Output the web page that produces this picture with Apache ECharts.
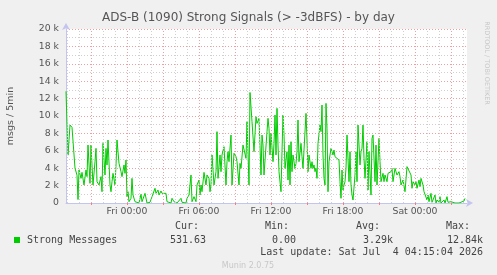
<!DOCTYPE html>
<html><head><meta charset="utf-8">
<script src="https://cdn.jsdelivr.net/npm/echarts@6/dist/echarts.min.js"></script>
<style>html,body{margin:0;padding:0;background:#f0f0f0;}#c{width:497px;height:275px;}</style>
</head><body><div id="c"></div>
<script>
// minutes relative to Fri 00:00
const minutes = [-305,-295,-285,-275,-265,-260,-250,-245,-240,-230,-225,-215,-205,-200,-195,-185,-180,-170,-160,-155,-150,-140,-130,-125,-120,-110,-105,-100,-95,-85,-80,-75,-70,-60,-55,-50,-40,-30,-25,-15,-10,-5,
0,5,10,20,25,30,40,45,50,60,70,75,80,90,100,115,125,140,145,155,160,170,175,185,195,200,210,220,225,235,245,250,260,270,275,285,295,300,310,320,325,335,345,350,360,365,370,375,385,395,400,410,415,420,425,435,445,450,455,465,470,475,485,495,500,505,510,520,525,535,545,550,560,565,570,580,590,595,600,610,615,625,635,645,650,660,670,675,680,685,690,700,705,710,715,
720,730,735,740,745,750,755,760,770,775,780,785,790,800,805,810,815,820,825,830,840,845,850,855,860,870,875,880,885,895,900,905,910,920,925,930,935,940,945,950,955,965,970,975,980,985,990,995,1000,1005,1010,1015,1020,1030,1035,1040,1045,1050,1060,1065,1070,1075,
1080,1085,1090,1095,1100,1110,1115,1120,1125,1130,1140,1145,1150,1155,1165,1170,1175,1180,1185,1190,1200,1205,1210,1220,1225,1230,1240,1245,1250,1260,1265,1270,1280,1285,1290,1300,1305,1310,1320,1325,1330,1340,1345,1350,1360,1365,1370,1380,1385,1390,1400,1405,1410,1420,1425,1430,
1440,1445,1450,1460,1465,1470,1480,1485,1490,1500,1505,1510,1520,1525,1530,1540,1545,1550,1560,1565,1570,1580,1585,1590,1600,1605,1610,1620,1625,1630,1640,1650,1660,1670,1685,1690];
const msgs = [12840,5500,8960,8700,8800,4000,3200,400,3800,2830,3520,2070,3800,3030,6660,2260,6660,2070,4750,6280,2450,2070,3030,1300,6860,3220,6280,4370,7240,2070,1300,2450,3410,2070,4370,7240,4560,3600,3030,4370,3410,4940,
730,1300,150,540,2830,920,150,150,350,0,1000,150,150,1110,0,80,730,1690,1110,1490,920,1380,1110,1300,1110,150,350,0,540,150,350,0,150,540,80,150,0,540,920,3220,150,730,150,2070,2640,920,2070,1300,3520,2070,3220,2830,1300,2070,5520,2070,3600,8200,2830,5520,3600,5520,6470,2070,4750,5900,4750,7810,2070,5710,5320,4750,2070,4560,3980,6660,6860,5130,9350,2070,12700,9350,5900,9920,9150,9730,3220,7810,6660,3220,3220,8200,9730,8580,5520,
8000,4750,6860,10110,5520,10880,6660,3600,1300,5900,10110,7810,3980,5900,2640,6660,2070,7050,3600,5520,3980,4560,5900,9540,4750,6860,5320,3980,3790,10300,7240,3600,5520,3980,4750,3980,4370,3600,3980,2830,6860,8960,8200,11260,5520,2830,2070,11450,8580,1300,4750,5520,6280,5520,6090,5320,5520,5130,4940,2450,540,3790,
1490,2070,2450,3980,7810,2450,5900,2070,920,350,3220,5900,2450,8960,4370,5900,6280,8960,5130,2830,7050,1490,5900,920,7430,7810,2450,6660,2070,7430,4750,2450,3410,2450,3220,2450,3410,3220,3600,3980,2450,3980,3600,3220,3600,3030,2070,2640,2450,1300,4180,4370,4180,3220,1690,2450,
2070,2450,1690,2640,1880,2830,2070,1300,1490,350,920,150,1110,80,150,920,0,350,80,730,0,80,350,0,730,80,0,150,0,350,0,0,0,0,230,530];
const xTickMinutes = [0,360,720,1080,1440];
const xTickLabels = ['Fri 00:00','Fri 06:00','Fri 12:00','Fri 18:00','Sat 00:00'];
const gridMinutes = [];
for (let m = -300; m <= 1680; m += 60) gridMinutes.push(m);
const titleText = 'ADS-B (1090) Strong Signals (> -3dBFS) - by day';
const yAxisName = 'msgs / 5min';
const seriesName = 'Strong Messages';
const statHeads = ['Cur:','Min:','Avg:','Max:'];
const statVals = ['531.63','0.00','3.29k','12.84k'];
const lastUpdate = 'Last update: Sat Jul  4 04:15:04 2026';
const footer = 'Munin 2.0.75';
const sideText = 'RRDTOOL / TOBI OETIKER';

const RED = '#eea0a0', GRAY = '#d0d0d0', AXIS = '#c4c4f0', TXT = '#555';
const DOT = [1,2];
const chart = echarts.init(document.getElementById('c'), null, {renderer:'canvas'});
const data = minutes.map((m,i)=>[m, msgs[i]]);
const headRight = [199, 289, 380, 470];
const valRight = [206, 296, 393, 483];
const mono = 'DejaVu Sans Mono';
const graphics = [
  {type:'text', left:'center', top:12, style:{text:titleText, font:'12px "DejaVu Sans"', fill:TXT}},
  {type:'text', x:11, y:116, rotation:Math.PI/2, style:{text:yAxisName, font:'9.5px "DejaVu Sans"', fill:TXT, textAlign:'center', textVerticalAlign:'middle'}},
  {type:'text', x:487, y:63, rotation:-Math.PI/2, style:{text:sideText, font:'6.5px "DejaVu Sans"', fill:'#c8c8c8', textAlign:'center', textVerticalAlign:'middle'}},
  {type:'rect', shape:{x:14, y:237, width:6, height:6}, style:{fill:'#00cc00'}},
  {type:'text', x:27, y:240, style:{text:seriesName, font:'10px '+mono, fill:'#444', textVerticalAlign:'middle'}},
  {type:'text', x:483, y:252, style:{text:lastUpdate, font:'10px '+mono, fill:'#444', textAlign:'right', textVerticalAlign:'middle'}},
  {type:'text', x:248, y:266, style:{text:footer, font:'8px "DejaVu Sans"', fill:'#c8c8c8', textAlign:'center', textVerticalAlign:'middle'}}
];
statHeads.forEach((h,i)=>{
  graphics.push({type:'text', x:headRight[i], y:226.5, style:{text:h, font:'10px '+mono, fill:'#444', textAlign:'right', textVerticalAlign:'middle'}});
  graphics.push({type:'text', x:valRight[i], y:240, style:{text:statVals[i], font:'10px '+mono, fill:'#444', textAlign:'right', textVerticalAlign:'middle'}});
});

chart.setOption({
  animation:false,
  backgroundColor:'#f0f0f0',
  grid:{left:66, right:30, top:29, bottom:72, show:true, backgroundColor:'#ffffff', borderWidth:0},
  xAxis:{type:'value', min:-305, max:1700,
    axisLine:{show:true, onZero:false, lineStyle:{color:AXIS, width:1}, symbol:['none','arrow'], symbolSize:[6,7], symbolOffset:[0,6]},
    axisTick:{show:true, customValues:[-180,0,180,360,540,720,900,1080,1260,1440,1620], length:2, lineStyle:{color:'#f08080'}},
    axisLabel:{customValues:xTickMinutes, formatter:(v)=>xTickLabels[xTickMinutes.indexOf(v)]||'', color:TXT, fontFamily:'DejaVu Sans', fontSize:9.3, margin:4},
    splitLine:{show:false}},
  yAxis:{type:'value', min:0, max:20000, interval:2000,
    axisLine:{show:true, onZero:false, lineStyle:{color:AXIS, width:1}, symbol:['none','arrow'], symbolSize:[6,7], symbolOffset:[0,6]},
    axisTick:{show:false},
    axisLabel:{formatter:(v)=> v===0?'0':(v/1000)+' k', color:TXT, fontFamily:'DejaVu Sans', fontSize:9.3, margin:7},
    splitLine:{show:true, lineStyle:{color:RED, type:DOT, width:1}},
    minorTick:{show:false, splitNumber:2},
    minorSplitLine:{show:true, lineStyle:{color:GRAY, type:DOT, width:1}}},
  graphic:graphics,
  series:[
    {type:'line', data:[], z:1, silent:true,
      markLine:{silent:true, symbol:'none', label:{show:false}, animation:false,
        data:gridMinutes.map(m=>({xAxis:m, lineStyle:{color:(m%180===0)?RED:GRAY, type:DOT, width:1}}))}},
    {type:'line', name:seriesName, data:data, z:3, showSymbol:false, symbol:'none',
      lineStyle:{color:'#00cc00', width:1}, itemStyle:{color:'#00cc00'}}
  ]
});
</script></body></html>
